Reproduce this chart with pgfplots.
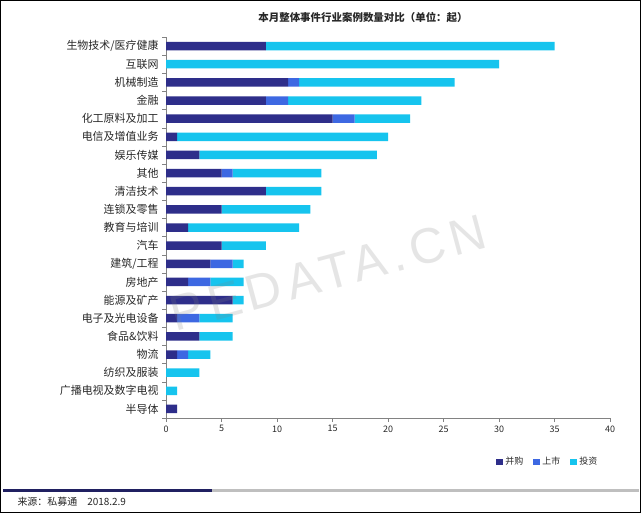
\documentclass[border=0pt]{standalone}
\usepackage{fontspec}
\setmainfont{Noto Sans CJK SC}
\newfontfamily\wmfont[LetterSpace=12]{Liberation Sans}
\usepackage{pgfplots}
\usepackage{pgfplotstable}
\pgfplotsset{compat=1.18}
\definecolor{cdark}{RGB}{46,46,138}
\definecolor{cmed}{RGB}{61,104,226}
\definecolor{ccyan}{RGB}{22,196,238}
\definecolor{axgray}{RGB}{130,130,130}
\definecolor{txt}{RGB}{40,40,40}
\pgfplotstableread{
idx a b c
0 9 0 26
1 0 0 30
2 11 1 14
3 9 2 12
4 15 2 5
5 1 0 19
6 3 0 16
7 5 1 8
8 9 0 5
9 5 0 8
10 2 0 10
11 5 0 4
12 4 2 1
13 2 2 3
14 6 0 1
15 1 2 3
16 3 0 3
17 1 1 2
18 0 0 3
19 0 0 1
20 1 0 0
}\data
\begin{document}
\begin{tikzpicture}
\useasboundingbox (0,0) rectangle (641bp,513bp);
\fill[white] (0,0) rectangle (641bp,513bp);
\begin{axis}[
  at={(166bp,95bp)}, anchor=south west,
  scale only axis, width=444bp, height=381bp,
  xbar stacked, bar width=8.5bp,
  xmin=0, xmax=40, xtick={0,5,...,40},
  ymin=-0.5, ymax=20.5, y dir=reverse,
  ytick={0,...,20},
  yticklabels={生物技术/医疗健康,互联网,机械制造,金融,化工原料及加工,电信及增值业务,娱乐传媒,其他,清洁技术,连锁及零售,教育与培训,汽车,建筑/工程,房地产,能源及矿产,电子及光电设备,食品\&饮料,物流,纺织及服装,广播电视及数字电视,半导体},
  minor ytick={-0.5,0.5,...,20.5},
  major y tick style={draw=none},
  minor y tick style={draw=axgray},
  minor tick length=4bp, major tick length=4bp,
  tick align=outside,
  x tick style={draw=axgray},
  axis x line*=bottom, axis y line*=left,
  axis line style={draw=axgray, -},
  /pgf/number format/assume math mode=true,
  xticklabel style={font=\fontsize{9}{9}\selectfont, text=txt},
  yticklabel style={font=\fontsize{11}{11}\selectfont, text=txt},
  legend columns=3,
  legend style={draw=none, fill=none, at={(0.86,-0.115)}, anchor=center,
    font=\fontsize{9}{9}\selectfont, text=txt,
    /tikz/every even column/.append style={column sep=8bp}},
  legend image code/.code={\fill[#1] (0bp,-3bp) rectangle (7bp,3bp);},
]
\addplot[fill=cdark, draw=none] table[x=a, y=idx]{\data};
\addplot[fill=cmed, draw=none] table[x=b, y=idx]{\data};
\addplot[fill=ccyan, draw=none] table[x=c, y=idx]{\data};
\legend{并购,上市,投资}
\end{axis}
\node[rotate=15, text=gray, opacity=0.2, font=\wmfont\fontsize{50}{50}\selectfont, inner sep=0pt] at (328bp,240bp) {PEDATA.CN};
\node[font=\bfseries\fontsize{10.5}{10.5}\selectfont, text=txt] at (363bp,495bp) {本月整体事件行业案例数量对比（单位：起）};
\draw[line width=3bp, draw=gray!50] (212bp,22bp) -- (639bp,22bp);
\draw[line width=3bp, draw=cdark!70!black] (3bp,22bp) -- (212bp,22bp);
\node[anchor=west, font=\fontsize{10}{10}\selectfont, text=txt] at (14bp,11bp) {来源：私募通\quad 2018.2.9};
\draw[black, line width=1bp] (0.5bp,0.5bp) rectangle (640.5bp,512.5bp);
\end{tikzpicture}
\end{document}
